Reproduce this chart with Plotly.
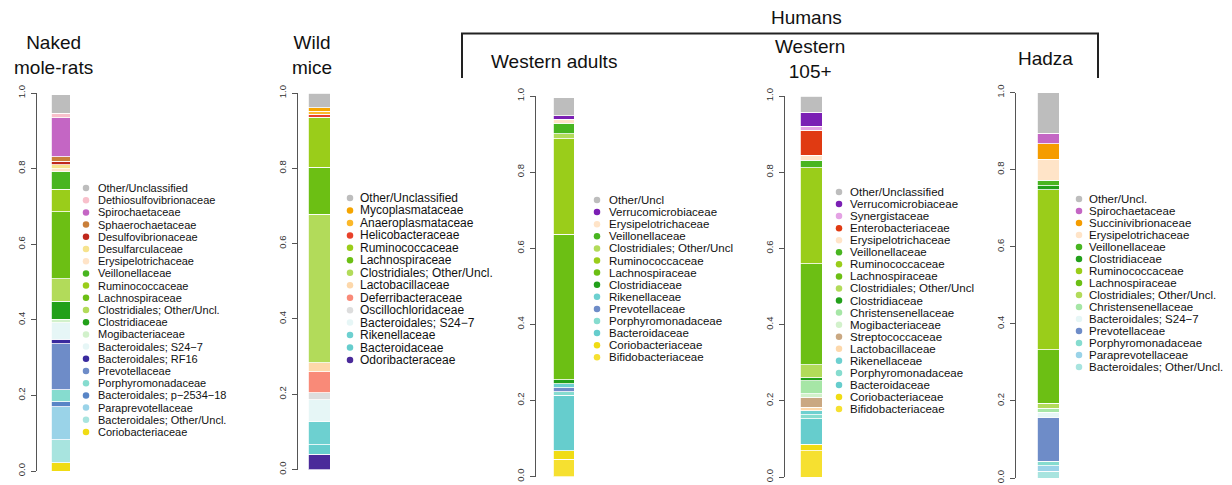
import plotly.graph_objects as go

# ---------------- data (legend order, top of bar first) ----------------
panel_labels = ["Naked<br>mole-rats", "Wild<br>mice", "Western adults", "Western<br>105+", "Hadza"]
group_label = "Humans"
tick_values = [0.0, 0.2, 0.4, 0.6, 0.8, 1.0]
tick_labels = ["0.0", "0.2", "0.4", "0.6", "0.8", "1.0"]

nmr_families = ["Other/Unclassified", "Dethiosulfovibrionaceae", "Spirochaetaceae", "Sphaerochaetaceae",
                "Desulfovibrionaceae", "Desulfarculaceae", "Erysipelotrichaceae", "Veillonellaceae",
                "Ruminococcaceae", "Lachnospiraceae", "Clostridiales; Other/Uncl.", "Clostridiaceae",
                "Mogibacteriaceae", "Bacteroidales; S24\u22127", "Bacteroidales; RF16", "Prevotellaceae",
                "Porphyromonadaceae", "Bacteroidales; p\u22122534\u221218", "Paraprevotellaceae",
                "Bacteroidales; Other/Uncl.", "Coriobacteriaceae"]
nmr_values = [0.049, 0.012, 0.104, 0.011, 0.010, 0.010, 0.007, 0.048, 0.059, 0.178, 0.059, 0.048,
              0.009, 0.044, 0.011, 0.122, 0.032, 0.013, 0.087, 0.061, 0.022]

mice_families = ["Other/Unclassified", "Mycoplasmataceae", "Anaeroplasmataceae", "Helicobacteraceae",
                 "Ruminococcaceae", "Lachnospiraceae", "Clostridiales; Other/Uncl.", "Lactobacillaceae",
                 "Deferribacteraceae", "Oscillochloridaceae", "Bacteroidales; S24\u22127", "Rikenellaceae",
                 "Bacteroidaceae", "Odoribacteraceae"]
mice_values = [0.039, 0.009, 0.009, 0.007, 0.133, 0.125, 0.395, 0.024, 0.055, 0.019, 0.057, 0.062,
               0.026, 0.040]

wadult_families = ["Other/Uncl", "Verrucomicrobiaceae", "Erysipelotrichaceae", "Veillonellaceae",
                   "Clostridiales; Other/Uncl", "Ruminococcaceae", "Lachnospiraceae", "Clostridiaceae",
                   "Rikenellaceae", "Prevotellaceae", "Porphyromonadaceae", "Bacteroidaceae",
                   "Coriobacteriaceae", "Bifidobacteriaceae"]
wadult_values = [0.048, 0.009, 0.010, 0.028, 0.013, 0.251, 0.383, 0.010, 0.011, 0.010, 0.010, 0.145,
                 0.022, 0.046]

w105_families = ["Other/Unclassified", "Verrucomicrobiaceae", "Synergistaceae", "Enterobacteriaceae",
                 "Erysipelotrichaceae", "Veillonellaceae", "Ruminococcaceae", "Lachnospiraceae",
                 "Clostridiales; Other/Uncl", "Clostridiaceae", "Christensenellaceae", "Mogibacteriaceae",
                 "Streptococcaceae", "Lactobacillaceae", "Rikenellaceae", "Porphyromonadaceae",
                 "Bacteroidaceae", "Coriobacteriaceae", "Bifidobacteriaceae"]
w105_values = [0.043, 0.036, 0.011, 0.065, 0.013, 0.020, 0.252, 0.266, 0.033, 0.008, 0.035, 0.009,
               0.026, 0.009, 0.011, 0.010, 0.067, 0.017, 0.069]

hadza_families = ["Other/Uncl.", "Spirochaetaceae", "Succinivibrionaceae", "Erysipelotrichaceae",
                  "Veillonellaceae", "Clostridiaceae", "Ruminococcaceae", "Lachnospiraceae",
                  "Clostridiales; Other/Uncl.", "Christensenellaceae", "Bacteroidales; S24\u22127",
                  "Prevotellaceae", "Porphyromonadaceae", "Paraprevotellaceae", "Bacteroidales; Other/Uncl."]
hadza_values = [0.105, 0.027, 0.040, 0.054, 0.015, 0.010, 0.415, 0.139, 0.013, 0.010, 0.013, 0.115,
                0.011, 0.015, 0.017]

# ---------------- styles ----------------
family_colors = {
    "Other": "#bdbdbd",
    "Dethiosulfovibrionaceae": "#f8c0cb",
    "Spirochaetaceae": "#c466c4",
    "Sphaerochaetaceae": "#c97f3a",
    "Desulfovibrionaceae": "#c0281c",
    "Desulfarculaceae": "#f6e38d",
    "Erysipelotrichaceae": "#ffe4c8",
    "Veillonellaceae": "#48b520",
    "Ruminococcaceae": "#9acd1a",
    "Lachnospiraceae": "#6cbf14",
    "Clostridiales": "#b2db5a",
    "Clostridiaceae": "#22a01a",
    "Mogibacteriaceae": "#d2f1cb",
    "Christensenellaceae": "#a6e6a6",
    "Bacteroidales; S24\u22127": "#e6f6f6",
    "Bacteroidales; RF16": "#3a2a9e",
    "Prevotellaceae": "#6e8cc8",
    "Porphyromonadaceae": "#86dccf",
    "Bacteroidales; p\u22122534\u221218": "#5885c6",
    "Paraprevotellaceae": "#9ad3e8",
    "Bacteroidales; Other/Uncl.": "#a8e4df",
    "Coriobacteriaceae": "#f0dc14",
    "Bifidobacteriaceae": "#f6e030",
    "Mycoplasmataceae": "#f5a500",
    "Anaeroplasmataceae": "#fbb829",
    "Helicobacteraceae": "#e8412a",
    "Lactobacillaceae": "#fdd8ab",
    "Deferribacteraceae": "#f98a78",
    "Oscillochloridaceae": "#dddddd",
    "Rikenellaceae": "#6dd0d0",
    "Bacteroidaceae": "#66cdcd",
    "Odoribacteraceae": "#4a2a9a",
    "Verrucomicrobiaceae": "#7b1fb4",
    "Synergistaceae": "#e4a2e4",
    "Enterobacteriaceae": "#e03a12",
    "Streptococcaceae": "#caa882",
    "Succinivibrionaceae": "#f59c00",
}


def color_of(name):
    if name.startswith("Other/Uncl"):
        return family_colors["Other"]
    if name.startswith("Clostridiales"):
        return family_colors["Clostridiales"]
    return family_colors[name]


FONT = "Liberation Sans, Arial, Helvetica, sans-serif"
W, H = 1232, 485

panels = [
    (panel_labels[0], nmr_families, nmr_values),
    (panel_labels[1], mice_families, mice_values),
    (panel_labels[2], wadult_families, wadult_values),
    (panel_labels[3], w105_families, w105_values),
    (panel_labels[4], hadza_families, hadza_values),
]

# geometry (pixels): axis x, bar centre, bar width, y of 0, y of 1,
# legend marker x, legend text x, first legend row y, row step, legend font, title x, title y
geom = [
    dict(ax=37, bc=60.5, bw=19, y0=471, y1=93, mx=86, tx=96, ly=188, ls=12.2, fs=11, ttx=53, tty=54.5),
    dict(ax=298, bc=319, bw=22, y0=469.5, y1=93, mx=350, tx=358, ly=198, ls=12.46, fs=12, ttx=312, tty=54.5),
    dict(ax=536, bc=563.5, bw=21, y0=476.5, y1=96, mx=597, tx=607, ly=200, ls=12.1, fs=11.5, ttx=554, tty=61),
    dict(ax=785, bc=811, bw=22, y0=477, y1=96, mx=839, tx=848, ly=192, ls=12.06, fs=11.5, ttx=810, tty=59),
    dict(ax=1016, bc=1048, bw=22, y0=478, y1=92.5, mx=1079, tx=1087, ly=199, ls=12.0, fs=11.5, ttx=1045, tty=58),
]

fig = go.Figure()
layout = dict(
    width=W, height=H, margin=dict(l=0, r=0, t=0, b=0, pad=0, autoexpand=False),
    paper_bgcolor="white", plot_bgcolor="rgba(0,0,0,0)",
    barmode="stack", showlegend=False, font=dict(family=FONT, color="#111"),
)
annotations = []
shapes = []
LEG = len(panels) + 1  # overlay axis index for legends / bracket (pixel units)

for i, ((label, fams, vals), g) in enumerate(zip(panels, geom)):
    k = i + 1
    xa = "x" if k == 1 else f"x{k}"
    ya = "y" if k == 1 else f"y{k}"
    # bars, stacked bottom-up (reverse of legend order)
    for fam, v in zip(reversed(fams), reversed(vals)):
        fig.add_trace(go.Bar(
            x=[label], y=[v], width=1, name=fam,
            marker=dict(color=color_of(fam), line=dict(color="white", width=0.8)),
            xaxis=xa, yaxis=ya, hoverinfo="name+y",
        ))
    span = 70
    layout[f"xaxis{'' if k == 1 else k}"] = dict(
        domain=[g["ax"] / W, (g["ax"] + span) / W],
        range=[-(g["bc"] - g["ax"]) / g["bw"], (g["ax"] + span - g["bc"]) / g["bw"]],
        type="category", visible=False, anchor=ya, fixedrange=True, automargin=False,
    )
    layout[f"yaxis{'' if k == 1 else k}"] = dict(
        domain=[1 - g["y0"] / H, 1 - g["y1"] / H], range=[0, 1], anchor=xa,
        tickvals=tick_values, ticktext=tick_labels, tickangle=-90,
        showline=True, linecolor="#555", linewidth=1, ticks="outside", ticklen=5,
        tickcolor="#555", tickwidth=1, ticklabelstandoff=2, automargin=False,
        tickfont=dict(size=9.5, color="#333", family=FONT),
        showgrid=False, zeroline=False, fixedrange=True,
    )
    # legend: dots + labels
    ys = [g["ly"] + j * g["ls"] for j in range(len(fams))]
    fig.add_trace(go.Scatter(
        x=[g["mx"]] * len(fams), y=ys, mode="markers",
        marker=dict(size=6.5, color=[color_of(f) for f in fams], line=dict(width=0)),
        xaxis=f"x{LEG}", yaxis=f"y{LEG}", hoverinfo="skip", cliponaxis=False,
    ))
    for fam, yy in zip(fams, ys):
        annotations.append(dict(
            x=g["tx"], y=yy, xref=f"x{LEG}", yref=f"y{LEG}", text=fam, showarrow=False,
            xanchor="left", yanchor="middle", font=dict(size=g["fs"], color="#111", family=FONT),
        ))
    # title
    annotations.append(dict(
        x=g["ttx"], y=g["tty"], xref=f"x{LEG}", yref=f"y{LEG}", text=label, showarrow=False,
        xanchor="center", yanchor="middle", font=dict(size=19, color="#111", family=FONT),
    ))

layout[f"xaxis{LEG}"] = dict(domain=[0, 1], range=[0, W], visible=False, anchor=f"y{LEG}",
                             fixedrange=True, automargin=False)
layout[f"yaxis{LEG}"] = dict(domain=[0, 1], range=[H, 0], visible=False, anchor=f"x{LEG}",
                             fixedrange=True, automargin=False)

# Humans bracket
shapes.append(dict(
    type="path", path="M 462 78 L 462 33.5 L 1098 33.5 L 1098 78",
    xref=f"x{LEG}", yref=f"y{LEG}", line=dict(color="#222", width=2),
))
annotations.append(dict(
    x=806, y=17, xref=f"x{LEG}", yref=f"y{LEG}", text=group_label, showarrow=False,
    xanchor="center", yanchor="middle", font=dict(size=19, color="#111", family=FONT),
))

layout["annotations"] = annotations
layout["shapes"] = shapes
fig.update_layout(**layout)
fig.write_html(
    "out.html",
    config={"displayModeBar": False, "responsive": False},
    post_script="document.body.style.margin='0';document.body.style.overflow='hidden';",
)
